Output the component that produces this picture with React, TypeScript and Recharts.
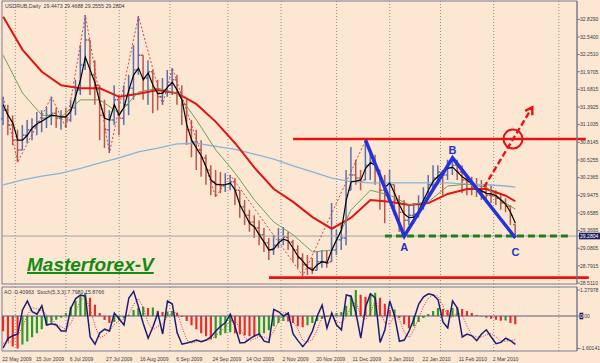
import React from 'react';
import {
  ComposedChart, Bar, Line, XAxis, YAxis, ReferenceLine, ReferenceArea, ReferenceDot, Cell,
} from 'recharts';

const BG = '#fce8d2';
const FRAME = '#7b7b92';
const GRID = '#8c8c8c';
const TEXT = '#3a3a4a';
const NAVY = '#1e2060';
const UP = '#5b6fae';
const DOWN = '#b8574e';
const RED = '#ea1111';
const PATTERN = '#2233dd';
const FONT = '"Liberation Sans", Arial, sans-serif';
const SMALL = 5.1;

// USDRUB daily, one bar per two trading days
const highs = [
  31.56, 31.43, 31.26, 31.02, 31.10, 31.18, 31.21, 31.31, 31.34, 31.39,
  31.56, 31.38, 31.34, 31.38, 31.51, 31.84, 32.41, 32.90, 32.49, 32.16,
  31.75, 31.51, 31.34, 31.75, 31.59, 31.75, 31.92, 32.41, 32.88, 32.24,
  32.16, 32.00, 31.84, 31.87, 32.00, 32.03, 31.92, 31.75, 31.51, 31.18,
  31.02, 30.85, 30.61, 30.44, 30.36, 30.33, 30.31, 30.28, 30.23, 30.03,
  29.87, 29.71, 29.62, 29.54, 29.41, 29.25, 29.30, 29.41, 29.43, 29.35,
  29.22, 29.13, 29.00, 28.97, 28.92, 29.02, 29.05, 29.05, 29.82, 29.38,
  29.46, 30.36, 30.74, 30.53, 30.36, 30.85, 30.69, 30.61, 30.36, 30.28,
  30.36, 30.12, 29.95, 29.87, 29.79, 29.82, 29.95, 30.08, 30.28, 30.44,
  30.44, 30.36, 30.53, 30.56, 30.53, 30.44, 30.28, 30.25, 30.23, 30.20,
  30.15, 30.12, 30.03, 29.95, 29.90, 29.79, 29.4688,
];
const lows = [
  31.10, 30.93, 30.77, 30.49, 30.69, 30.80, 30.85, 30.93, 30.98, 31.05,
  31.10, 31.05, 31.02, 31.05, 31.15, 31.26, 31.59, 32.00, 31.59, 31.43,
  30.85, 30.72, 30.64, 31.10, 30.93, 31.10, 31.26, 31.51, 31.92, 31.51,
  31.43, 31.29, 31.34, 31.43, 31.56, 31.59, 31.43, 31.10, 30.77, 30.57,
  30.36, 30.25, 30.12, 29.95, 29.92, 29.98, 30.00, 30.03, 29.79, 29.58,
  29.46, 29.35, 29.25, 29.13, 29.02, 28.89, 28.97, 29.08, 29.13, 29.05,
  28.86, 28.76, 28.63, 28.64, 28.66, 28.72, 28.76, 28.76, 28.86, 28.97,
  29.05, 29.13, 30.03, 30.12, 30.03, 30.20, 30.20, 30.12, 29.71, 29.49,
  29.87, 29.62, 29.35, 29.28, 29.46, 29.49, 29.58, 29.71, 29.87, 30.03,
  30.12, 29.95, 30.20, 30.28, 30.20, 29.98, 29.95, 29.95, 29.92, 29.87,
  29.82, 29.82, 29.79, 29.71, 29.67, 29.46, 29.2555,
];
const closes = [
  31.34, 31.10, 30.85, 30.69, 30.93, 31.02, 31.07, 31.15, 31.21, 31.26,
  31.29, 31.21, 31.23, 31.18, 31.38, 31.67, 32.08, 32.49, 31.92, 31.75,
  31.26, 31.02, 31.18, 31.51, 31.21, 31.43, 31.70, 32.00, 32.24, 31.87,
  31.97, 31.67, 31.56, 31.64, 31.75, 31.84, 31.64, 31.43, 31.02, 30.82,
  30.69, 30.56, 30.36, 30.17, 30.12, 30.10, 30.13, 30.17, 30.03, 29.76,
  29.62, 29.51, 29.41, 29.30, 29.17, 29.05, 29.13, 29.22, 29.26, 29.18,
  29.05, 28.92, 28.81, 28.76, 28.72, 28.86, 28.86, 28.84, 29.05, 29.22,
  29.25, 29.95, 30.28, 30.23, 30.17, 30.44, 30.49, 30.36, 30.03, 29.95,
  30.12, 29.87, 29.67, 29.54, 29.62, 29.64, 29.79, 29.90, 30.12, 30.23,
  30.33, 30.28, 30.39, 30.44, 30.33, 30.20, 30.17, 30.08, 30.03, 30.00,
  29.95, 29.94, 29.90, 29.82, 29.77, 29.62, 29.2804,
];
const FIRST_OPEN = 31.2;

// moving averages
const fastMa = [
  31.43, 31.26, 31.13, 30.85, 30.85, 30.93, 31.05, 31.12, 31.16, 31.21,
  31.26, 31.25, 31.23, 31.23, 31.33, 31.57, 31.84, 32.21, 32.00, 31.79,
  31.47, 31.21, 31.18, 31.43, 31.26, 31.39, 31.67, 31.92, 32.03, 31.84,
  31.95, 31.75, 31.61, 31.62, 31.72, 31.80, 31.67, 31.51, 31.10, 30.85,
  30.72, 30.59, 30.41, 30.20, 30.13, 30.12, 30.12, 30.15, 30.03, 29.79,
  29.64, 29.49, 29.43, 29.30, 29.18, 29.05, 29.07, 29.17, 29.23, 29.20,
  29.08, 28.95, 28.87, 28.77, 28.72, 28.81, 28.86, 28.84, 29.05, 29.22,
  29.38, 29.87, 30.17, 30.18, 30.20, 30.39, 30.48, 30.44, 30.25, 30.08,
  30.15, 29.98, 29.79, 29.64, 29.58, 29.59, 29.69, 29.87, 30.03, 30.18,
  30.26, 30.33, 30.39, 30.41, 30.33, 30.25, 30.20, 30.13, 30.07, 30.02,
  29.98, 29.97, 29.94, 29.87, 29.80, 29.67, 29.49,
];
const maBars = [0, 4, 8, 12, 16, 20, 24, 28, 32, 36, 40, 44, 48, 52, 56, 60, 64, 68, 72, 76, 80, 84, 88, 92, 96, 100, 104, 106];
const greenMa = [32.24, 31.62, 31.26, 31.23, 31.51, 31.51, 31.29, 31.64, 31.70, 31.62, 31.18, 30.69, 30.31, 29.87, 29.51, 29.30, 29.02, 29.05, 29.71, 30.03, 29.95, 29.79, 29.84, 30.10, 30.13, 30.08, 29.82, 29.72];
const redMa = [32.87, 32.33, 31.97, 31.75, 31.70, 31.70, 31.56, 31.61, 31.67, 31.62, 31.44, 31.15, 30.80, 30.40, 30.05, 29.84, 29.59, 29.40, 29.58, 29.87, 29.84, 29.79, 29.82, 29.97, 30.05, 30.05, 29.94, 29.85];
const blueMa = [30.12, 30.20, 30.26, 30.31, 30.39, 30.48, 30.56, 30.66, 30.72, 30.79, 30.80, 30.75, 30.70, 30.62, 30.54, 30.43, 30.33, 30.23, 30.17, 30.15, 30.15, 30.15, 30.15, 30.15, 30.13, 30.12, 30.10, 30.08];

const zigzagBars = [0, 3, 10, 13, 17, 22, 28, 33, 35, 44, 47, 62, 75, 83, 93, 106];
const zigzagValues = [31.56, 30.49, 31.56, 31.05, 32.90, 30.64, 32.88, 31.43, 32.03, 29.92, 30.28, 28.63, 30.85, 29.28, 30.56, 29.26];

// drawn pattern
const patternBars = [75, 83, 93, 106];
const patternValues = [30.85, 29.28, 30.56, 29.25];
const patternNames = ['', 'A', 'B', 'C'];

// Awesome Oscillator and Stochastic(5,3,3)
const ao = [
  -0.75, -1.25, -1.5, -1.6, -1.4, -1.25, -1.05, -0.85, -0.65, -0.45,
  -0.33, -0.18, -0.08, 0.15, 0.45, 0.75, 1.0, 1.15, 0.9, 0.55,
  0.15, -0.2, -0.35, -0.3, -0.2, -0.1, 0.05, 0.3, 0.4, 0.45,
  0.4, 0.42, 0.25, 0.2, 0.22, 0.25, 0.15, -0.05, -0.25, -0.45,
  -0.65, -0.85, -1.0, -1.15, -1.1, -0.95, -0.85, -0.8, -0.85, -0.9,
  -0.95, -1.0, -1.02, -0.95, -0.85, -0.7, -0.5, -0.35, -0.25, -0.27,
  -0.35, -0.5, -0.55, -0.45, -0.35, -0.25, -0.15, -0.05, 0.05, 0.15,
  0.2, 0.5, 1.0, 1.28, 1.05, 0.95, 1.1, 1.15, 0.9, 0.6,
  0.3, 0.32, -0.1, -0.4, -0.6, -0.5, -0.3, -0.1, 0.1, 0.25,
  0.4, 0.35, 0.3, 0.4, 0.42, 0.35, 0.25, 0.15, 0.05, -0.03,
  -0.08, -0.13, -0.18, -0.23, -0.22, -0.35, -0.40963,
];
const stochMain = [
  2, 18, 22, 25, 65, 80, 62, 58, 72, 40,
  42, 40, 30, 30, 68, 84, 90, 88, 20, 8,
  27, 33, 30, 60, 50, 40, 85, 96, 70, 42,
  18, 37, 60, 25, 80, 75, 27, 8, 10, 12,
  15, 12, 15, 20, 30, 38, 44, 58, 37, 10,
  11, 17, 22, 25, 13, 11, 66, 62, 55, 60,
  25, 14, 4, 14, 30, 55, 73, 35, 60, 40,
  32, 90, 88, 60, 18, 70, 92, 85, 11, 32,
  80, 55, 13, 15, 30, 50, 75, 87, 92, 90,
  82, 45, 35, 80, 68, 20, 25, 22, 14, 25,
  32, 20, 9, 11, 18, 14, 7.798,
];
const stochSignal = [
  10, 10, 14, 22, 37, 57, 69, 67, 64, 57,
  51, 41, 37, 33, 43, 61, 81, 87, 66, 39,
  18, 23, 30, 41, 47, 50, 58, 74, 84, 69,
  43, 32, 38, 41, 55, 60, 61, 37, 15, 10,
  12, 13, 14, 16, 22, 29, 37, 47, 46, 35,
  19, 13, 17, 21, 20, 16, 30, 46, 61, 59,
  47, 33, 14, 11, 16, 33, 53, 54, 56, 45,
  44, 54, 70, 79, 55, 49, 60, 82, 63, 43,
  41, 56, 49, 28, 19, 32, 52, 71, 85, 90,
  88, 72, 54, 53, 61, 56, 38, 22, 20, 20,
  24, 26, 20, 13, 13, 14, 15.8766,
];

// axes
const priceTicks = [32.829, 32.54, 32.251, 31.9705, 31.6815, 31.3925, 31.1035, 30.8145, 30.5255, 30.2365, 29.9475, 29.6585, 29.3695, 29.0805, 28.7915, 28.511];
const LAST_CLOSE = 29.2804;
const aoTicks = [1.27978, 0, -1.60141];
const aoTickLabels = ['1.27978', '0.00', '-1.60141'];
const dateSlots = [0, 14, 28, 43, 57, 72, 87, 101, 116, 130, 145, 160, 174, 189, 203];
const dateLabels = ['22 May 2009', '15 Jun 2009', '6 Jul 2009', '27 Jul 2009', '16 Aug 2009', '6 Sep 2009', '24 Sep 2009', '14 Oct 2009', '2 Nov 2009', '20 Nov 2009', '11 Dec 2009', '3 Jan 2010', '22 Jan 2010', '11 Feb 2010', '2 Mar 2010'];
const monthSlots = [5, 26, 48, 69, 93, 115, 138, 160, 181, 203, 230];

// hand-drawn levels (slot = trading day position)
const RESISTANCE = 30.87;
const RESISTANCE_FROM = 120;
const SUPPORT = 28.60;
const SUPPORT_FROM = 110;
const NECKLINE = 29.28;
const NECKLINE_SLOTS = [158, 235];
const BREAKOUT_FROM = { x: 199, y: 30.08 };
const BREAKOUT_TO = { x: 219, y: 31.39 };
const TARGET = { x: 211, y: 30.87 };

const TITLE = 'USDRUB,Daily  29.4473 29.4688 29.2555 29.2804';
const SUB_TITLE = 'AO -0.40963  Stoch(5,3,3) 7.7980 15.8766';

const SLOT_COUNT = 238;
const LAST_SLOT = SLOT_COUNT - 1;
const PRICE_DOMAIN: [number, number] = [28.495, 33.129];
const AO_DOMAIN: [number, number] = [-1.724, 1.429];
const STOCH_DOMAIN: [number, number] = [-3.3, 103.3];

const rows = Array.from({ length: SLOT_COUNT }, (_, slot) => {
  const row: Record<string, any> = { slot };
  if (slot % 2 !== 0) return row;
  const k = slot / 2;
  if (k >= closes.length) return row;
  const open = k === 0 ? FIRST_OPEN : closes[k - 1];
  Object.assign(row, {
    range: [lows[k], highs[k]],
    open, high: highs[k], low: lows[k], close: closes[k],
    fast: fastMa[k],
    ao: ao[k],
    aoUp: k > 0 && ao[k] > ao[k - 1],
    stoch: stochMain[k],
    signal: stochSignal[k],
  });
  const m = maBars.indexOf(k);
  if (m >= 0) {
    row.green = greenMa[m];
    row.red = redMa[m];
    row.blue = blueMa[m];
  }
  const z = zigzagBars.indexOf(k);
  if (z >= 0) row.zigzag = zigzagValues[z];
  const p = patternBars.indexOf(k);
  if (p >= 0) row.pattern = patternValues[p];
  return row;
});

const LABEL_PLACE: Record<string, { position: 'top' | 'bottom'; offset: number }> = {
  A: { position: 'bottom', offset: 7 },
  B: { position: 'top', offset: 4 },
  C: { position: 'bottom', offset: 10 },
};

function PriceBar(props: any) {
  const { x, y, width, height, payload } = props;
  if (!payload || payload.high == null) return null;
  const top = Math.min(y, y + height);
  const h = Math.abs(height);
  const cx = x + width / 2;
  const span = payload.high - payload.low || 1;
  const clamp = (v: number) => Math.min(payload.high, Math.max(payload.low, v));
  const yOpen = top + ((payload.high - clamp(payload.open)) / span) * h;
  const yClose = top + ((payload.high - payload.close) / span) * h;
  const color = payload.close >= payload.open ? UP : DOWN;
  return (
    <g stroke={color} strokeWidth={1.5}>
      <line x1={cx} y1={top} x2={cx} y2={top + h} />
      <line x1={cx - 2.1} y1={yOpen} x2={cx} y2={yOpen} />
      <line x1={cx} y1={yClose} x2={cx + 2.1} y2={yClose} />
    </g>
  );
}

function PriceTick(props: any) {
  const { x, y, payload } = props;
  const v = payload.value;
  if (v === LAST_CLOSE) {
    return (
      <g>
        <rect x={x - 1} y={y - 3.3} width={22} height={6.6} fill={NAVY} />
        <text x={x} y={y} dy={1.8} fontSize={SMALL} fill="#fff" fontFamily={FONT}>{v.toFixed(4)}</text>
      </g>
    );
  }
  return <text x={x} y={y} dy={1.8} fontSize={SMALL} fill={TEXT} fontFamily={FONT}>{v.toFixed(4)}</text>;
}

function AoTick(props: any) {
  const { x, y, payload } = props;
  const i = aoTicks.indexOf(payload.value);
  if (payload.value === 0) {
    return (
      <g>
        <rect x={x - 0.5} y={y - 3.3} width={3.8} height={6.6} fill={NAVY} />
        <text x={x} y={y} dy={1.8} fontSize={SMALL} fill={TEXT} fontFamily={FONT}>
          <tspan fill="#fff">{aoTickLabels[i].slice(0, 1)}</tspan>{aoTickLabels[i].slice(1)}
        </text>
      </g>
    );
  }
  return <text x={x} y={y} dy={1.8} fontSize={SMALL} fill={TEXT} fontFamily={FONT}>{aoTickLabels[i]}</text>;
}

function DateTick(props: any) {
  const { x, y, payload } = props;
  const i = dateSlots.indexOf(payload.value);
  return <text x={x - 1} y={y} dy={5.5} fontSize={SMALL} fill={TEXT} textAnchor="start" fontFamily={FONT}>{dateLabels[i]}</text>;
}

const extendedLine = (extra: number) => (p: any) => (
  <line x1={p.x1} y1={p.y1} x2={p.x2 + extra} y2={p.y2} stroke={RED} strokeWidth={2.6} />
);

function ArrowShape(p: any) {
  const { x1, y1, x2, y2 } = p;
  const ang = Math.atan2(y2 - y1, x2 - x1);
  const len = 8;
  const spread = 0.55;
  const ax = x2 - len * Math.cos(ang - spread);
  const ay = y2 - len * Math.sin(ang - spread);
  const bx = x2 - len * Math.cos(ang + spread);
  const by = y2 - len * Math.sin(ang + spread);
  return (
    <g stroke={RED} strokeWidth={2.4} fill="none">
      <line x1={x1} y1={y1} x2={x2} y2={y2} strokeDasharray="6 3" />
      <polyline points={`${ax},${ay} ${x2},${y2} ${bx},${by}`} />
    </g>
  );
}

export default function App() {
  return (
    <div style={{ position: 'fixed', left: 0, top: 0, width: 600, height: 363, background: BG, overflow: 'hidden', fontFamily: FONT }}>
      <div style={{ position: 'absolute', left: 0, top: 0 }}>
        <ComposedChart width={600} height={285} data={rows} margin={{ top: 1, right: 0, bottom: 1, left: 2 }}>
          <XAxis dataKey="slot" hide />
          <YAxis
            orientation="right" type="number" domain={PRICE_DOMAIN} allowDataOverflow
            ticks={[...priceTicks, LAST_CLOSE]} interval={0} width={23}
            tickSize={3} tickMargin={0} tick={<PriceTick />} stroke={FRAME}
          />
          <ReferenceArea y1={PRICE_DOMAIN[0]} y2={PRICE_DOMAIN[1]} fill="none" stroke={FRAME} />
          {monthSlots.map((s) => (
            <ReferenceLine key={s} x={s} stroke={GRID} strokeDasharray="1 2" />
          ))}
          <ReferenceLine y={LAST_CLOSE} stroke="#a0a0a0" />
          <Bar dataKey="range" barSize={2} shape={<PriceBar />} isAnimationActive={false} />
          <Line dataKey="blue" stroke="#86b4de" strokeWidth={1.3} dot={false} connectNulls isAnimationActive={false} />
          <Line dataKey="red" stroke="#e01515" strokeWidth={2} dot={false} connectNulls isAnimationActive={false} />
          <Line dataKey="green" stroke="#6f9e55" strokeWidth={1} dot={false} connectNulls isAnimationActive={false} />
          <Line dataKey="zigzag" stroke="#d84040" strokeWidth={1} strokeDasharray="2 2" dot={false} connectNulls isAnimationActive={false} />
          <Line dataKey="fast" stroke="#000" strokeWidth={1.2} dot={false} connectNulls isAnimationActive={false} />
          <ReferenceLine
            segment={[{ x: RESISTANCE_FROM, y: RESISTANCE }, { x: LAST_SLOT, y: RESISTANCE }]}
            shape={extendedLine(10)}
          />
          <ReferenceLine
            segment={[{ x: SUPPORT_FROM, y: SUPPORT }, { x: LAST_SLOT, y: SUPPORT }]}
            shape={extendedLine(13)}
          />
          <ReferenceLine
            segment={[{ x: NECKLINE_SLOTS[0], y: NECKLINE }, { x: NECKLINE_SLOTS[1], y: NECKLINE }]}
            stroke="#237a23" strokeWidth={3} strokeDasharray="7 4"
          />
          <Line dataKey="pattern" stroke={PATTERN} strokeWidth={3.5} dot={false} connectNulls isAnimationActive={false} />
          {patternBars.map((k, i) => {
            const name = patternNames[i];
            if (!name) return null;
            return (
              <ReferenceDot
                key={name} x={k * 2} y={patternValues[i]} r={0} fill="none" stroke="none"
                label={{ value: name, position: LABEL_PLACE[name].position, offset: LABEL_PLACE[name].offset, fill: '#2233cc', fontSize: 11, fontWeight: 700, fontFamily: FONT }}
              />
            );
          })}
          <ReferenceLine segment={[BREAKOUT_FROM, BREAKOUT_TO]} shape={ArrowShape} />
          <ReferenceDot x={TARGET.x} y={TARGET.y} r={9.5} fill="none" stroke={RED} strokeWidth={2} />
        </ComposedChart>
      </div>

      <div style={{ position: 'absolute', left: 0, top: 286 }}>
        <ComposedChart width={600} height={77} data={rows} margin={{ top: 1, right: 0, bottom: 0, left: 2 }}>
          <XAxis
            dataKey="slot" ticks={dateSlots} interval={0} height={12}
            tickLine={false} axisLine={false} tickSize={2} tickMargin={2} tick={<DateTick />}
          />
          <YAxis
            yAxisId="ao" orientation="right" type="number" domain={AO_DOMAIN} allowDataOverflow
            ticks={aoTicks} interval={0} width={23} tickSize={3} tickMargin={0}
            tick={<AoTick />} stroke={FRAME}
          />
          <YAxis yAxisId="stoch" hide type="number" domain={STOCH_DOMAIN} allowDataOverflow />
          <ReferenceArea yAxisId="ao" y1={AO_DOMAIN[0]} y2={AO_DOMAIN[1]} fill="none" stroke={FRAME} />
          {monthSlots.map((s) => (
            <ReferenceLine key={s} yAxisId="ao" x={s} stroke={GRID} strokeDasharray="1 2" />
          ))}
          <ReferenceLine yAxisId="ao" y={0} stroke="#5a5a7a" />
          <Bar yAxisId="ao" dataKey="ao" barSize={4.2} isAnimationActive={false}>
            {rows.map((r) => (
              <Cell key={r.slot} fill={r.aoUp ? '#2a9a2a' : '#ec2a2a'} />
            ))}
          </Bar>
          <Line yAxisId="stoch" dataKey="signal" stroke="#d03030" strokeWidth={1} strokeDasharray="1 1.5" dot={false} connectNulls isAnimationActive={false} />
          <Line yAxisId="stoch" dataKey="stoch" stroke="#1c1c78" strokeWidth={1.5} dot={false} connectNulls isAnimationActive={false} />
        </ComposedChart>
      </div>

      <svg width={600} height={363} style={{ position: 'absolute', left: 0, top: 0, pointerEvents: 'none' }}>
        <text x={5} y={8} fontSize={5.3} fill={TEXT} fontFamily={FONT} xmlSpace="preserve">{TITLE}</text>
        <text x={4} y={294} fontSize={5.3} fill={TEXT} fontFamily={FONT} xmlSpace="preserve">{SUB_TITLE}</text>
      </svg>

      <div
        style={{
          position: 'absolute', left: 27, top: 255, fontSize: 19, lineHeight: '19px',
          fontWeight: 700, fontStyle: 'italic', color: '#138a13', textDecoration: 'underline',
          textDecorationThickness: 2, whiteSpace: 'nowrap',
        }}
      >
        Masterforex-V
      </div>
    </div>
  );
}
